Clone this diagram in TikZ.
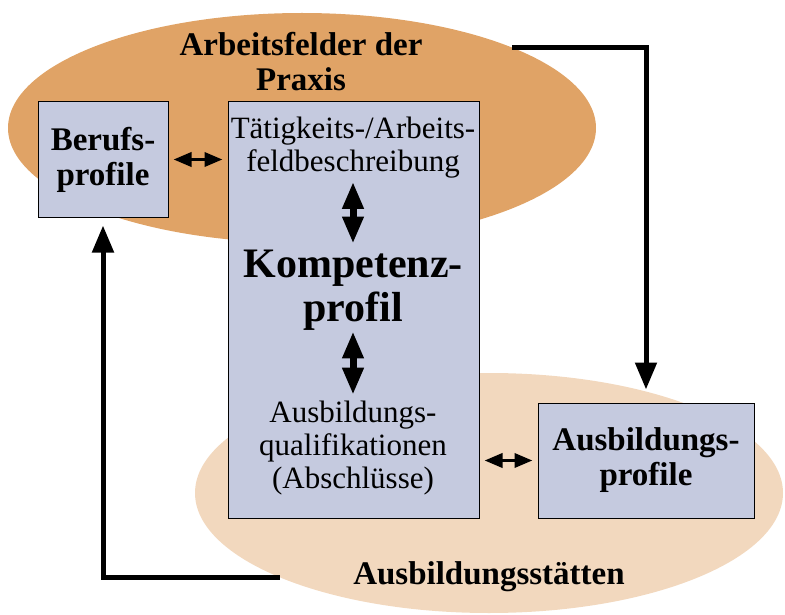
\documentclass[tikz,border=0pt]{standalone}
\usepackage{fontspec}
\setmainfont{Liberation Serif}
\usepackage{tikz}
\usetikzlibrary{arrows.meta,shapes.geometric}

\definecolor{praxisfarbe}{HTML}{E0A366}
\definecolor{staettenfarbe}{HTML}{F2D8BE}
\definecolor{kastenfarbe}{HTML}{C5CADF}

\tikzset{
	kasten/.style={draw=black, line width=1pt, fill=kastenfarbe, inner sep=0pt, align=center},
	wolke/.style={ellipse, inner sep=0pt},
	dickpfeil/.style={line width=5pt, -{Triangle[length=27pt,width=21pt]}},
	kleinpfeil/.style={line width=3.5pt, {Triangle[length=18pt,width=14pt]}-{Triangle[length=18pt,width=14pt]}, shorten <=5pt, shorten >=5pt},
	grosspfeil/.style={line width=7pt, {Triangle[length=27pt,width=20pt]}-{Triangle[length=27pt,width=20pt]}},
	normaltext/.style={font=\fontsize{31}{33}\selectfont, align=center, inner sep=0pt},
	fetttext/.style={font=\fontsize{33}{35}\selectfont\bfseries, align=center, inner sep=0pt}
}

\begin{document}
\begin{tikzpicture}[x=1pt, y=-1pt]
			%%%%% START %%%%%
			\useasboundingbox (0, 0) rectangle (785, 615);
			
			\node[wolke, fill=praxisfarbe, minimum width=588pt, minimum height=230pt] (praxis) at (302, 128) {};
			\node[wolke, fill=staettenfarbe, minimum width=588pt, minimum height=240pt] (staetten) at (489, 493) {};
			
			\node[fetttext] (praxistitel) at (301, 62) {Arbeitsfelder der\\Praxis};
			\node[fetttext] (staettentitel) at (489, 577) {Ausbildungsstätten};
			
			\node[kasten, fetttext, draw, fill=kastenfarbe, minimum width=130pt, minimum height=115pt] (beruf) at (103, 159.5) {Berufs-\\profile};
			\node[kasten, minimum width=251pt, minimum height=416pt] (kern) at (353.5, 310) {};
			\node[kasten, fetttext, draw, fill=kastenfarbe, minimum width=216pt, minimum height=115pt] (ausb) at (646, 460.5) {Ausbildungs-\\profile};
			
			\node[normaltext] (taetig) at (353, 148) {Tätigkeits-/Arbeits-\\feldbeschreibung};
			\node[normaltext, font=\fontsize{42}{44}\selectfont\bfseries] (kompetenz) at (353, 290) {Kompetenz-\\profil};
			\node[normaltext] (quali) at (353, 448) {Ausbildungs-\\qualifikationen\\(Abschlüsse)};
			
			% Pfeile
			\draw[kleinpfeil] (beruf.east) -- (beruf.east -| kern.west);
			\draw[kleinpfeil] (ausb.west) -- (ausb.west -| kern.east);
			\draw[grosspfeil, shorten <=3pt, shorten >=6pt] (taetig.south) -- (kompetenz.north);
			\draw[grosspfeil, shorten <=1pt, shorten >=6pt] (kompetenz.south) -- (quali.north);
			
			\draw[dickpfeil, shorten >=13pt] (praxis.21) -| (ausb.north);
			\draw[dickpfeil, shorten >=8pt] (staetten.202) -| (beruf.south);
			
			%%%%% END %%%%%
\end{tikzpicture}
\end{document}
